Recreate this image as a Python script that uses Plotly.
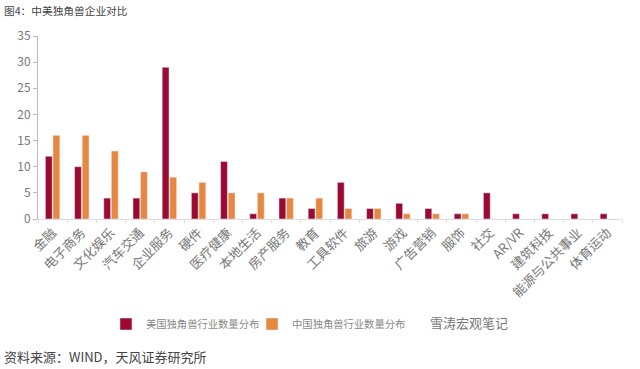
import plotly.graph_objects as go

categories = ["金融", "电子商务", "文化娱乐", "汽车交通", "企业服务", "硬件", "医疗健康",
              "本地生活", "房产服务", "教育", "工具软件", "旅游", "游戏", "广告营销",
              "服饰", "社交", "AR/VR", "建筑科技", "能源与公共事业", "体育运动"]
us_values = [12, 10, 4, 4, 29, 5, 11, 1, 4, 2, 7, 2, 3, 2, 1, 5, 1, 1, 1, 1]
cn_values = [16, 16, 13, 9, 8, 7, 5, 5, 4, 4, 2, 2, 1, 1, 1, 0, 0, 0, 0, 0]
us_name = "美国独角兽行业数量分布"
cn_name = "中国独角兽行业数量分布"

FONT = "Noto Sans CJK SC"
RED = "#9C0A32"
ORANGE = "#E8873F"

fig = go.Figure()
fig.add_bar(x=categories, y=us_values, name=us_name, marker_color=RED, legend="legend")
fig.add_bar(x=categories, y=cn_values, name=cn_name, marker_color=ORANGE, legend="legend2")

leg_common = dict(orientation="h", yanchor="middle", xanchor="left",
                  font=dict(size=10.3, color="#888888"), itemwidth=30,
                  bgcolor="rgba(0,0,0,0)")

fig.update_layout(
    width=640, height=369,
    margin=dict(l=38, r=18, t=36, b=150),
    paper_bgcolor="white", plot_bgcolor="white",
    font=dict(family=FONT, color="#777777", size=12),
    barmode="group", bargap=0.48, bargroupgap=0.1,
    showlegend=True,
    legend=dict(x=0.1164, y=-0.574, **leg_common),
    legend2=dict(x=0.3665, y=-0.574, **leg_common),
)
fig.update_yaxes(range=[0, 35], dtick=5, showgrid=False, showline=True,
                 linecolor="#BBBBBB", linewidth=1, ticks="outside", ticklen=4,
                 tickcolor="#BBBBBB", tickfont=dict(size=12, color="#777777"),
                 zeroline=False)
fig.update_xaxes(showgrid=False, showline=True, linecolor="#DDDDDD", linewidth=1,
                 ticks="outside", tickson="boundaries", ticklen=3, tickcolor="#DDDDDD",
                 tickangle=-45, tickfont=dict(size=13, color="#777777"))

fig.add_annotation(xref="paper", yref="paper", x=-0.0616, y=1.142, xanchor="left", yanchor="middle",
                   text="图4：中美独角兽企业对比", showarrow=False,
                   font=dict(size=10.7, color="#444444", family=FONT))
fig.add_annotation(xref="paper", yref="paper", x=-0.0616, y=-0.754, xanchor="left", yanchor="middle",
                   text="资料来源：WIND，天风证券研究所", showarrow=False,
                   font=dict(size=13, color="#444444", family=FONT))
fig.add_annotation(xref="paper", yref="paper", x=0.668, y=-0.563, xanchor="left", yanchor="middle",
                   text="雪涛宏观笔记", showarrow=False,
                   font=dict(size=13, color="#777777", family=FONT))

fig.write_html("out.html", config={"displayModeBar": False},
               post_script="document.body.style.margin='0';")
